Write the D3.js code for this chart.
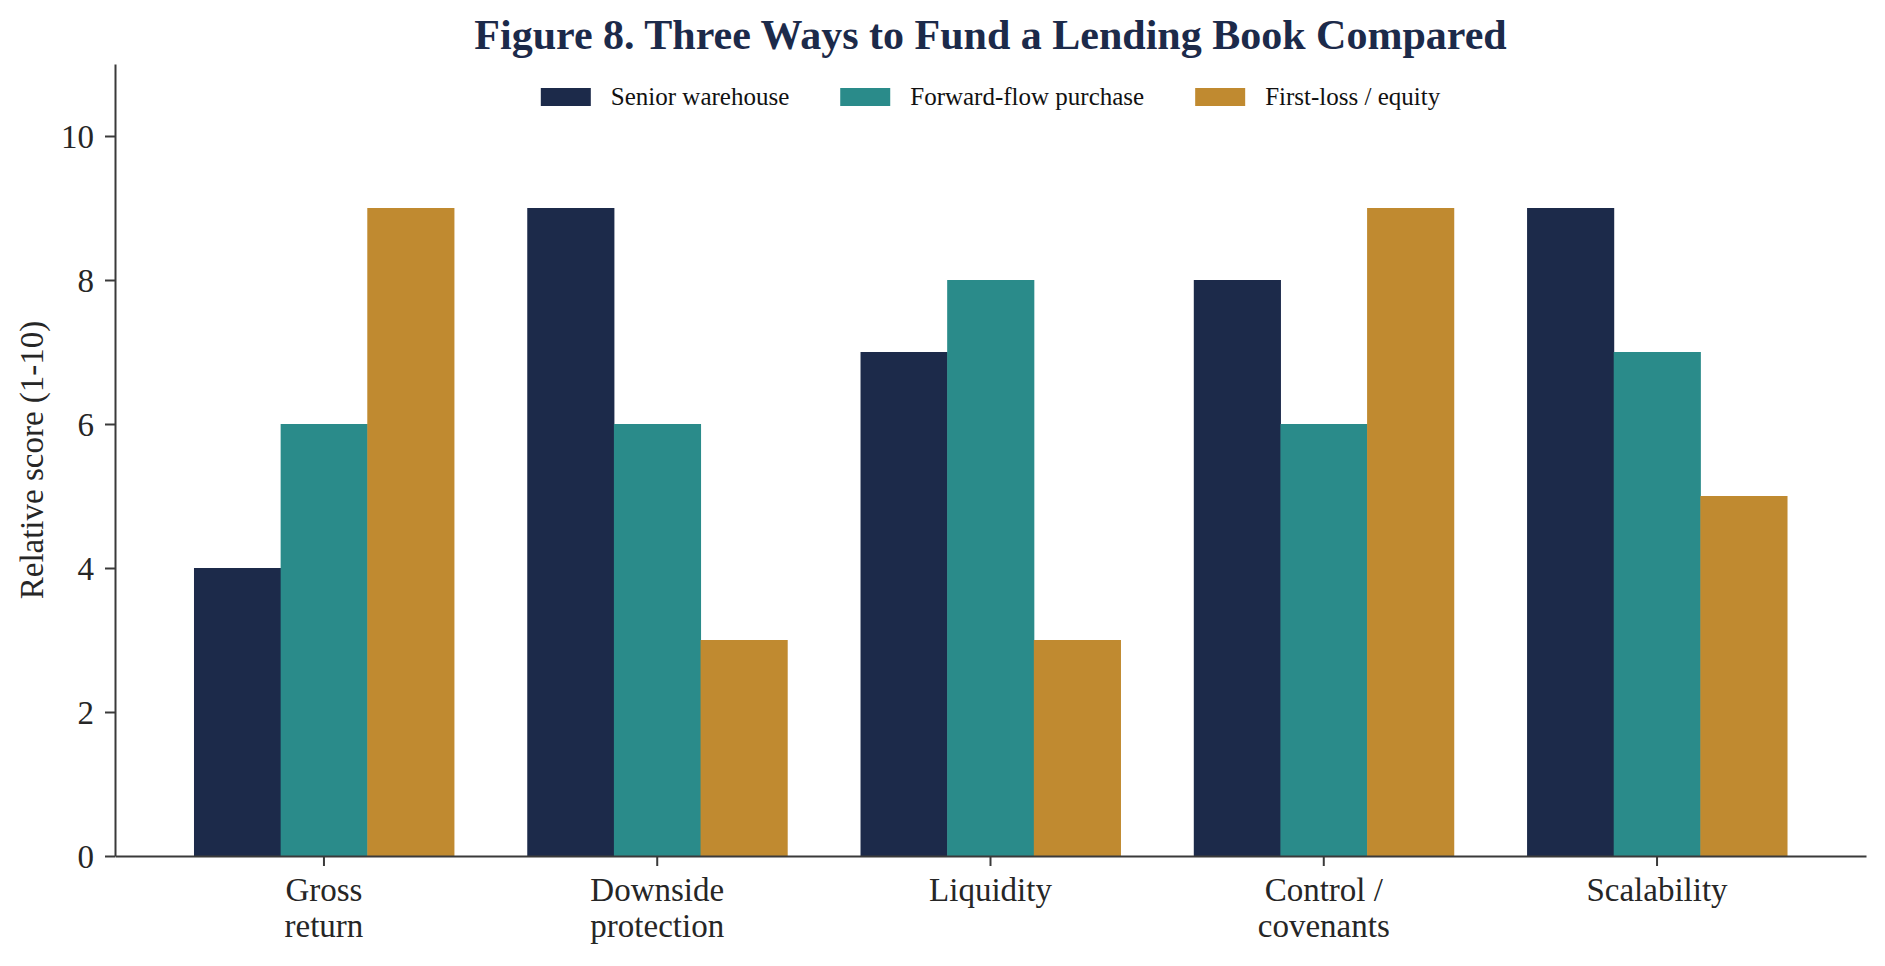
<!DOCTYPE html>
<html>
<head>
<meta charset="utf-8">
<script src="https://cdn.jsdelivr.net/npm/d3@7"></script>
<style>
  body { margin: 0; background: #fff; }
  text { font-family: "Liberation Serif", "Times New Roman", serif; }
  .axis path, .axis line { stroke: #3a3a3a; }
  .axis text { fill: #262626; font-size: 33px; }
</style>
</head>
<body>
<div class="chart"></div>
<script>
// DATA ------------------------------
const categories = ["Gross\nreturn", "Downside\nprotection", "Liquidity", "Control /\ncovenants", "Scalability"];
const seriesNames = ["Senior warehouse", "Forward-flow purchase", "First-loss / equity"];
const seniorWarehouse = [4, 9, 7, 8, 9];
const forwardFlow = [6, 6, 8, 6, 7];
const firstLoss = [9, 3, 3, 9, 5];
const yTicks = [0, 2, 4, 6, 8, 10];
const colors = ["#1c2a4a", "#2a8b8a", "#c08a30"];

const seriesValues = [seniorWarehouse, forwardFlow, firstLoss];

// CHART INIT ------------------------------
const W = 1885, H = 966;
const margin = ({top: 64, right: 19, bottom: 110, left: 115});
const w = W - margin.left - margin.right,
      h = H - margin.top - margin.bottom;

const svg = d3.select(".chart")
    .append("svg")
    .attr("width", W)
    .attr("height", H);

const g = svg.append("g")
    .attr("transform", `translate(${margin.left},${margin.top})`);

// scales
const xScale = d3.scaleBand()
    .domain(categories)
    .range([0, w])
    .paddingInner(0.22)
    .paddingOuter(0.237);

const xSub = d3.scaleBand()
    .domain(seriesNames)
    .range([0, xScale.bandwidth()]);

const yScale = d3.scaleLinear()
    .domain([0, 11])
    .range([h, 0]);

const color = d3.scaleOrdinal().domain(seriesNames).range(colors);

// bars
const rows = categories.map((c, i) => ({
    cat: c,
    vals: seriesNames.map((s, j) => ({series: s, value: seriesValues[j][i]}))
}));

g.selectAll(".group")
    .data(rows)
    .join("g")
    .attr("class", "group")
    .attr("transform", d => `translate(${xScale(d.cat)},0)`)
    .selectAll("rect")
    .data(d => d.vals)
    .join("rect")
    .attr("x", d => xSub(d.series))
    .attr("width", xSub.bandwidth() + 0.5)
    .attr("y", d => yScale(d.value))
    .attr("height", d => h - yScale(d.value))
    .attr("fill", d => color(d.series));

// axes
const yAxis = d3.axisLeft(yScale)
    .tickValues(yTicks)
    .tickSize(10)
    .tickPadding(11)
    .tickSizeOuter(0);

const xAxis = d3.axisBottom(xScale)
    .tickSize(10)
    .tickPadding(0)
    .tickSizeOuter(0);

g.append("g")
    .attr("class", "axis y-axis")
    .call(yAxis)
    .call(a => a.select(".domain").attr("stroke-width", 2))
    .call(a => a.selectAll(".tick line").attr("stroke-width", 2))
    .call(a => a.selectAll("text").attr("dy", "0.34em"));

const xa = g.append("g")
    .attr("class", "axis x-axis")
    .attr("transform", `translate(0,${h})`)
    .call(xAxis)
    .call(a => a.select(".domain").attr("stroke-width", 2))
    .call(a => a.selectAll(".tick line").attr("stroke-width", 2));

// multi-line category labels
xa.selectAll(".tick text")
    .attr("y", 0)
    .attr("dy", null)
    .each(function(d) {
        const t = d3.select(this);
        const lines = d.split("\n");
        t.text(null);
        lines.forEach((ln, i) => {
            t.append("tspan")
                .attr("x", 0)
                .attr("y", 45 + i * 35.5)
                .text(ln);
        });
    });

// y label
svg.append("text")
    .attr("transform", `translate(43,${margin.top + h / 2}) rotate(-90)`)
    .attr("text-anchor", "middle")
    .attr("fill", "#262626")
    .style("font-size", "33px")
    .text("Relative score (1-10)");

// title
svg.append("text")
    .attr("x", margin.left + w / 2)
    .attr("y", 49)
    .attr("text-anchor", "middle")
    .attr("fill", "#1c2a4a")
    .style("font-size", "42px")
    .style("font-weight", "bold")
    .text("Figure 8. Three Ways to Fund a Lending Book Compared");

// legend
const legend = svg.append("g").attr("class", "legend");
const items = legend.selectAll(".item")
    .data(seriesNames)
    .join("g")
    .attr("class", "item");

items.append("rect")
    .attr("width", 50)
    .attr("height", 18)
    .attr("y", 88)
    .attr("fill", d => color(d));

items.append("text")
    .attr("x", 70)
    .attr("y", 105)
    .attr("fill", "#111")
    .style("font-size", "25px")
    .text(d => d);

// lay out items side by side, centered on the axes
let offsets = [], cur = 0;
items.each(function() {
    const tw = d3.select(this).select("text").node().getComputedTextLength();
    offsets.push(cur);
    cur += 70 + tw + 51;
});
const totalW = cur - 51;
const start = margin.left + w / 2 - totalW / 2;
items.attr("transform", (d, i) => `translate(${start + offsets[i]},0)`);
</script>
</body>
</html>
